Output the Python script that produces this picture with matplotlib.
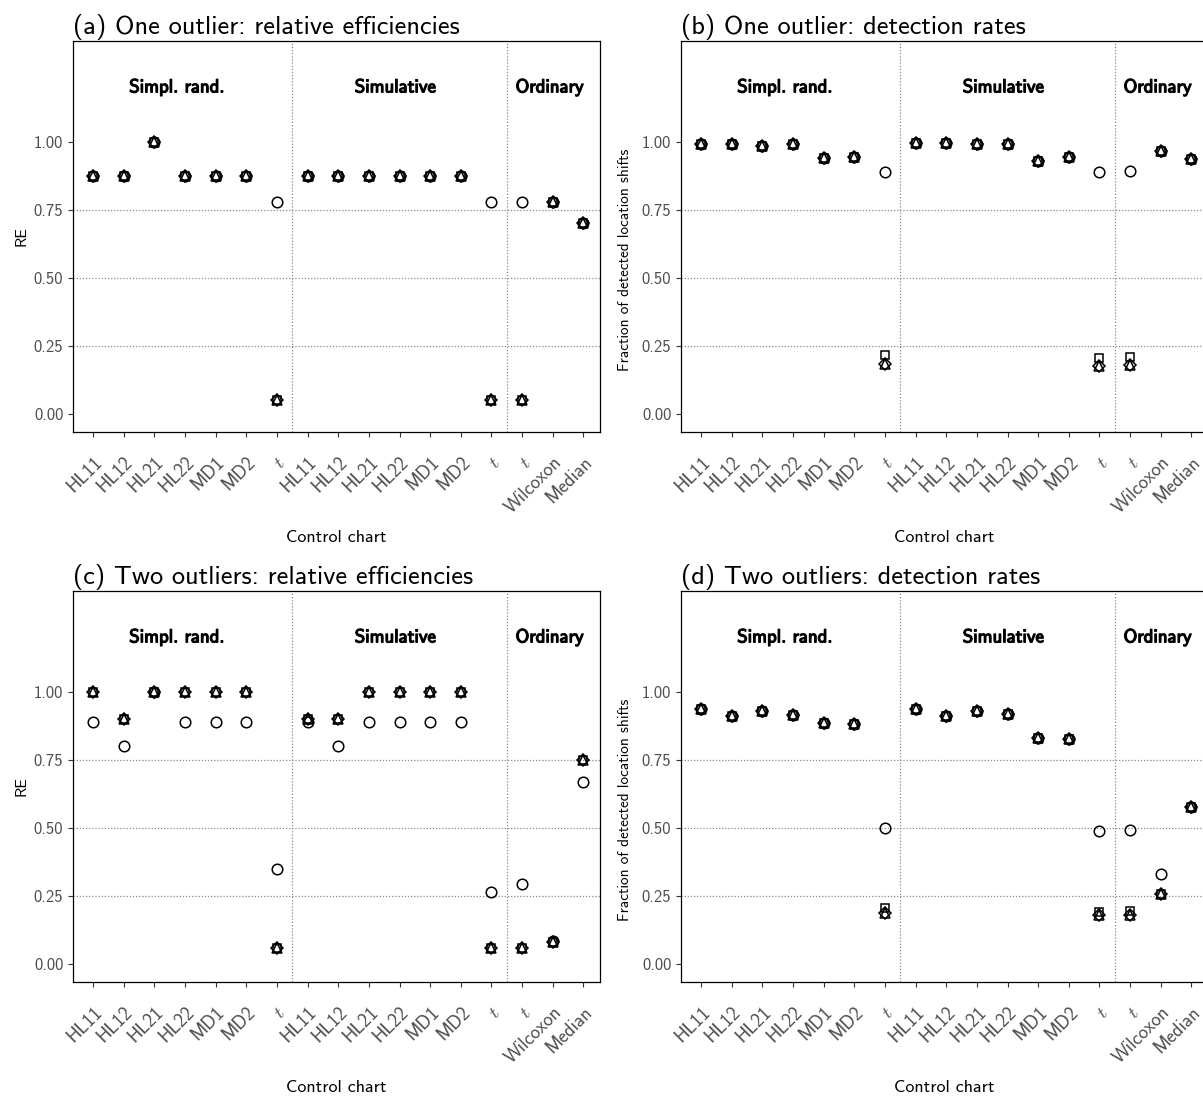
import matplotlib
matplotlib.use("Agg")
import matplotlib.pyplot as plt
import matplotlib.patheffects as pe

plt.rcParams["font.family"] = ["cmss10", "DejaVu Sans"]
plt.rcParams["mathtext.fontset"] = "cm"
plt.rcParams["axes.formatter.use_mathtext"] = True

# ---- data -------------------------------------------------------------
charts = ["HL11", "HL12", "HL21", "HL22", "MD1", "MD2", "$t$",
          "HL11", "HL12", "HL21", "HL22", "MD1", "MD2", "$t$",
          "$t$", "Wilcoxon", "Median"]
groups = ["Simpl. rand.", "Simulative", "Ordinary"]
group_x = [2.74, 9.87, 14.9]
separators = [6.5, 13.5]

# (a) one outlier, relative efficiencies
a_circle = [.875, .875, 1.0, .875, .875, .875, .778, .875, .875, .875, .875, .875, .875, .778, .778, .778, .70]
a_triang = [.875, .875, 1.0, .875, .875, .875, .05, .875, .875, .875, .875, .875, .875, .05, .05, .778, .70]
a_diamnd = [.875, .875, 1.0, .875, .875, .875, .05, .875, .875, .875, .875, .875, .875, .05, .05, .778, .70]
a_square = [.875, .875, 1.0, .875, .875, .875, .05, .875, .875, .875, .875, .875, .875, .05, .05, .778, .70]

# (b) one outlier, detection rates
b_circle = [.99, .99, .985, .99, .94, .945, .89, .995, .995, .99, .99, .93, .945, .89, .893, .965, .935]
b_triang = [.99, .99, .985, .99, .94, .945, .185, .995, .995, .99, .99, .93, .945, .178, .18, .965, .935]
b_diamnd = [.99, .99, .985, .99, .94, .945, .185, .995, .995, .99, .99, .93, .945, .178, .18, .965, .935]
b_square = [.99, .99, .985, .99, .94, .945, .217, .995, .995, .99, .99, .93, .945, .205, .208, .965, .935]

# (c) two outliers, relative efficiencies
c_circle = [.889, .80, 1.0, .889, .889, .889, .35, .889, .80, .889, .889, .889, .889, .265, .295, .085, .667]
c_triang = [1.0, .90, 1.0, 1.0, 1.0, 1.0, .06, .90, .90, 1.0, 1.0, 1.0, 1.0, .06, .06, .08, .75]
c_diamnd = [1.0, .90, 1.0, 1.0, 1.0, 1.0, .06, .90, .90, 1.0, 1.0, 1.0, 1.0, .06, .06, .08, .75]
c_square = [1.0, .90, 1.0, 1.0, 1.0, 1.0, .06, .90, .90, 1.0, 1.0, 1.0, 1.0, .06, .06, .08, .75]

# (d) two outliers, detection rates
d_circle = [.935, .91, .928, .915, .887, .883, .50, .935, .91, .93, .92, .83, .828, .487, .492, .33, .575]
d_triang = [.935, .91, .928, .915, .887, .883, .186, .935, .91, .93, .92, .83, .828, .18, .18, .258, .575]
d_diamnd = [.935, .91, .928, .915, .887, .883, .186, .935, .91, .93, .92, .83, .828, .18, .18, .258, .575]
d_square = [.935, .91, .928, .915, .887, .883, .204, .935, .91, .93, .92, .83, .828, .19, .195, .258, .575]

panels = [
    ("(a) One outlier: relative efficiencies", "RE", (a_circle, a_triang, a_diamnd, a_square)),
    ("(b) One outlier: detection rates", "Fraction of detected location shifts", (b_circle, b_triang, b_diamnd, b_square)),
    ("(c) Two outliers: relative efficiencies", "RE", (c_circle, c_triang, c_diamnd, c_square)),
    ("(d) Two outliers: detection rates", "Fraction of detected location shifts", (d_circle, d_triang, d_diamnd, d_square)),
]

# ---- layout (pixel boxes) --------------------------------------------
W, H = 1203, 1099
boxes = [(73, 41), (681, 41), (73, 591), (681, 591)]  # left, top
AW, AH = 527, 391

fig = plt.figure(figsize=(W / 100, H / 100), dpi=100)
fig.patch.set_facecolor("white")

styles = [dict(marker="o", ms=7.6), dict(marker="^", ms=7.8),
          dict(marker="D", ms=6.4), dict(marker="s", ms=6.2)]
xs = list(range(len(charts)))

for (title, ylab, series), (lx, ty) in zip(panels, boxes):
    ax = fig.add_axes([lx / W, 1 - (ty + AH) / H, AW / W, AH / H])
    ax.set_xlim(-0.65, 16.54)
    ax.set_ylim(-0.066, 1.37)
    for y in (0.25, 0.5, 0.75):
        ax.axhline(y, ls=(0, (1, 1.5)), color="#8a8a8a", lw=0.9, zorder=1)
    for s in separators:
        ax.axvline(s, ls=(0, (1, 1.5)), color="#8a8a8a", lw=0.9, zorder=1)
    for vals, st in zip(series, styles):
        ax.plot(xs, vals, ls="none", marker=st["marker"], ms=st["ms"], mfc="none",
                mec="black", mew=1.1, zorder=3)
    for g, gx in zip(groups, group_x):
        ax.text(gx, 1.20, g, ha="center", va="center", fontsize=13.5, color="black",
                path_effects=[pe.withStroke(linewidth=0.9, foreground="black")])
    ax.set_xticks(xs)
    ax.set_xticklabels(charts, rotation=45, ha="right", va="top", rotation_mode="anchor",
                       fontsize=13.5, color="#4d4d4d")
    ax.set_yticks([0, 0.25, 0.5, 0.75, 1.0])
    ax.set_yticklabels(["0.00", "0.25", "0.50", "0.75", "1.00"], fontsize=12, color="#4d4d4d")
    ax.tick_params(length=3.5, width=0.8, color="#333333")
    ax.tick_params(axis="x", pad=12)
    for sp in ax.spines.values():
        sp.set_color("black")
        sp.set_linewidth(0.9)
    ax.set_title(title, loc="left", fontsize=19, pad=5)
    if ylab == "RE":
        ax.set_ylabel(ylab, fontsize=11.5)
    else:
        ax.set_ylabel(ylab, fontsize=11, va="center")
        ax.yaxis.set_label_coords(-(681 - 625) / AW, 1 - (260 - 41) / AH)
    ax.set_xlabel("Control chart", fontsize=13, va="center")
    ax.xaxis.set_label_coords(0.5, -(537 - 432) / AH)

fig.savefig("out.png", dpi=100, facecolor="white")
